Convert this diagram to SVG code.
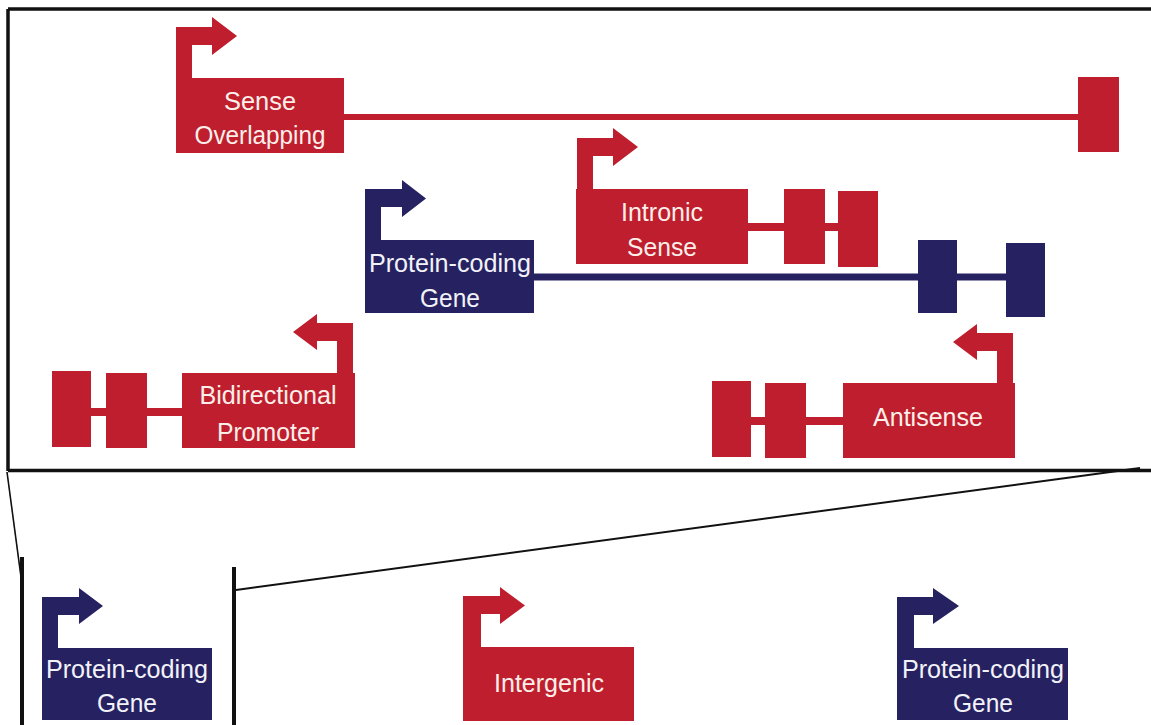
<svg xmlns="http://www.w3.org/2000/svg" width="1151" height="725" viewBox="0 0 1151 725">
<style>
.red{fill:#be1e2d}
.blue{fill:#262262}
.rl{stroke:#be1e2d;fill:none}
.bl{stroke:#262262;fill:none}
.t{font-family:"Liberation Sans",Arial,sans-serif;font-size:26.5px;text-anchor:middle}
.tr{fill:#fcefea}
.tb{fill:#f2f2f8}
.frame{stroke:#111;fill:none}
</style>
<rect width="1151" height="725" fill="#fff"/>
<g id="connectors">
<path class="frame" d="M8,9 H1151 M8,9 V471 M8,470.5 H1151" stroke-width="3.5"/>
<path class="frame" d="M7,472 L21,577" stroke-width="1.6"/>
<path class="frame" d="M236,590 L1140,468" stroke-width="2"/>
<path class="frame" d="M22,557 V725 M234,567 V725" stroke-width="4"/>
</g>
<g id="sense-overlapping">
<line class="rl" x1="344" y1="117" x2="1078" y2="117" stroke-width="6"/>
<rect class="red" x="1078" y="77" width="41" height="75"/>
<path class="red" d="M176,78 V27 H212 V17 L237,36 L212,55 V45 H192 V78 Z"/>
<rect class="red" x="176" y="78" width="168" height="75"/>
<text class="t tr" x="260" y="110" textLength="72" lengthAdjust="spacingAndGlyphs">Sense</text>
<text class="t tr" x="260" y="144" textLength="131" lengthAdjust="spacingAndGlyphs">Overlapping</text>
</g>
<g id="intronic-sense">
<line class="rl" x1="748" y1="227" x2="838" y2="227" stroke-width="8"/>
<path class="red" d="M577,189 V138 H613 V128 L638,147 L613,166 V156 H593 V189 Z"/>
<rect class="red" x="576" y="189" width="172" height="75"/>
<rect class="red" x="784" y="189" width="41" height="75"/>
<rect class="red" x="838" y="191" width="40" height="76"/>
<text class="t tr" x="662" y="221" textLength="82" lengthAdjust="spacingAndGlyphs">Intronic</text>
<text class="t tr" x="662" y="256" textLength="70" lengthAdjust="spacingAndGlyphs">Sense</text>
</g>
<g id="protein-coding-gene">
<line class="bl" x1="534" y1="277" x2="1006" y2="277" stroke-width="7"/>
<path class="blue" d="M365,240 V189 H402 V180 L426,198.5 L402,217 V207 H381 V240 Z"/>
<rect class="blue" x="365" y="240" width="169" height="73"/>
<rect class="blue" x="918" y="240" width="39" height="73"/>
<rect class="blue" x="1006" y="243" width="39" height="74"/>
<text class="t tb" x="450" y="272" textLength="162" lengthAdjust="spacingAndGlyphs">Protein-coding</text>
<text class="t tb" x="450" y="307" textLength="60" lengthAdjust="spacingAndGlyphs">Gene</text>
</g>
<g id="bidirectional-promoter">
<line class="rl" x1="91" y1="412" x2="182" y2="412" stroke-width="8"/>
<rect class="red" x="52" y="371" width="39" height="76"/>
<rect class="red" x="106" y="373" width="41" height="75"/>
<path class="red" d="M353,373 V323 H317 V314 L293,332 L317,350 V341 H337 V373 Z"/>
<rect class="red" x="182" y="373" width="173" height="75"/>
<text class="t tr" x="268" y="404" textLength="137" lengthAdjust="spacingAndGlyphs">Bidirectional</text>
<text class="t tr" x="268" y="441" textLength="102" lengthAdjust="spacingAndGlyphs">Promoter</text>
</g>
<g id="antisense">
<line class="rl" x1="751" y1="421" x2="843" y2="421" stroke-width="8"/>
<rect class="red" x="712" y="381" width="39" height="76"/>
<rect class="red" x="765" y="383" width="41" height="75"/>
<path class="red" d="M1013,383 V333 H977 V324 L953,342 L977,360 V351 H997 V383 Z"/>
<rect class="red" x="843" y="383" width="172" height="75"/>
<text class="t tr" x="928" y="426" textLength="110" lengthAdjust="spacingAndGlyphs">Antisense</text>
</g>
<g id="protein-coding-gene-left">
<path class="blue" d="M42,648 V597 H79 V588 L103,606 L79,624 V615 H58 V648 Z"/>
<rect class="blue" x="42" y="648" width="170" height="72"/>
<text class="t tb" x="127" y="678" textLength="162" lengthAdjust="spacingAndGlyphs">Protein-coding</text>
<text class="t tb" x="127" y="712" textLength="60" lengthAdjust="spacingAndGlyphs">Gene</text>
</g>
<g id="intergenic">
<path class="red" d="M463,647 V596 H500 V587 L525,605.5 L500,624 V614 H481 V647 Z"/>
<rect class="red" x="463" y="647" width="171" height="74"/>
<text class="t tr" x="549" y="692" textLength="110" lengthAdjust="spacingAndGlyphs">Intergenic</text>
</g>
<g id="protein-coding-gene-right">
<path class="blue" d="M897,648 V597 H933 V588 L959,606 L933,624 V615 H914 V648 Z"/>
<rect class="blue" x="897" y="648" width="171" height="72"/>
<text class="t tb" x="983" y="678" textLength="162" lengthAdjust="spacingAndGlyphs">Protein-coding</text>
<text class="t tb" x="983" y="712" textLength="60" lengthAdjust="spacingAndGlyphs">Gene</text>
</g>
</svg>
